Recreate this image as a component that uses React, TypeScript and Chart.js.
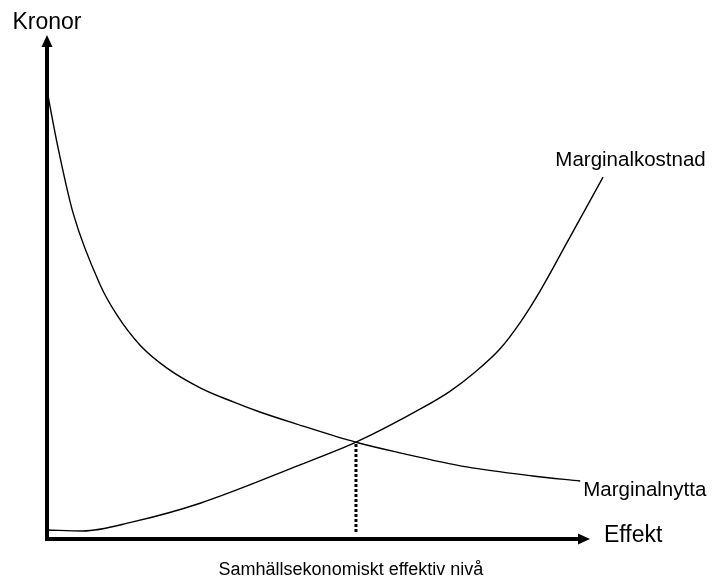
import React, { useEffect, useRef } from "react";
import { Chart, registerables } from "chart.js";

Chart.register(...registerables);

// Effekt (x, 0–100) and Kronor (y, 0–100)
const nyttaX = [0, 2.0, 4.8, 9.8, 12.9, 17.1, 22.1, 28.2, 34.3, 39.2, 46.0, 56.9, 65.0, 77.3, 89.5, 98.2];
const nyttaY = [89, 77.8, 64.7, 50.4, 44.4, 38.5, 33.9, 30.0, 27.2, 25.2, 22.8, 19.2, 17.1, 14.3, 12.5, 11.5];

const kostnadX = [0, 6.6, 15.8, 28.2, 46.6, 56.9, 69.1, 74.2, 78.8, 83.4, 87.1, 90.8, 95.8, 102.4];
const kostnadY = [1.8, 1.6, 3.4, 7.1, 14.7, 19.2, 26.0, 29.3, 33.1, 37.7, 42.9, 49.2, 58.9, 71.8];

const optimumX = 56.9;
const optimumY = 19.2;
const dottedBottom = 1.4;

const yAxisTitle = "Kronor";
const xAxisTitle = "Effekt";
const kostnadLabel = "Marginalkostnad";
const nyttaLabel = "Marginalnytta";
const optimumLabel = "Samhällsekonomiskt effektiv nivå";

const FONT = "'Liberation Sans', Arial, Helvetica, sans-serif";

const toPoints = (xs: number[], ys: number[]) => xs.map((x, i) => ({ x, y: ys[i] }));

const overlay = {
  id: "overlay",
  afterDraw(chart: any) {
    const ctx = chart.ctx as CanvasRenderingContext2D;
    const xs = chart.scales.x;
    const ys = chart.scales.y;
    const x0 = xs.getPixelForValue(0);
    const x1 = xs.getPixelForValue(100);
    const y0 = ys.getPixelForValue(0);
    const y1 = ys.getPixelForValue(100);
    ctx.save();
    ctx.fillStyle = "#000";
    ctx.strokeStyle = "#000";
    ctx.lineWidth = 4;
    ctx.lineCap = "butt";
    // y axis
    ctx.beginPath();
    ctx.moveTo(x0, y0 + 2);
    ctx.lineTo(x0, y1 + 10);
    ctx.stroke();
    ctx.beginPath();
    ctx.moveTo(x0, y1);
    ctx.lineTo(x0 - 5.5, y1 + 12);
    ctx.lineTo(x0 + 5.5, y1 + 12);
    ctx.closePath();
    ctx.fill();
    // x axis
    ctx.beginPath();
    ctx.moveTo(x0 - 2, y0);
    ctx.lineTo(x1 - 10, y0);
    ctx.stroke();
    ctx.beginPath();
    ctx.moveTo(x1, y0);
    ctx.lineTo(x1 - 12, y0 - 5.5);
    ctx.lineTo(x1 - 12, y0 + 5.5);
    ctx.closePath();
    ctx.fill();

    // texts
    ctx.textBaseline = "alphabetic";
    ctx.font = `23px ${FONT}`;
    ctx.textAlign = "center";
    ctx.fillText(yAxisTitle, x0, y1 - 6);
    ctx.textAlign = "left";
    ctx.fillText(xAxisTitle, x1 + 14, y0 + 3);

    ctx.font = `20.5px ${FONT}`;
    const kx = xs.getPixelForValue(kostnadX[kostnadX.length - 1]);
    const ky = ys.getPixelForValue(kostnadY[kostnadY.length - 1]);
    ctx.textAlign = "center";
    ctx.fillText(kostnadLabel, kx + 27.5, ky - 11);

    const nx = xs.getPixelForValue(nyttaX[nyttaX.length - 1]);
    const ny = ys.getPixelForValue(nyttaY[nyttaY.length - 1]);
    ctx.textAlign = "left";
    ctx.fillText(nyttaLabel, nx + 3, ny + 15);

    ctx.font = `18px ${FONT}`;
    ctx.textAlign = "center";
    ctx.fillText(optimumLabel, xs.getPixelForValue(optimumX) - 5, y0 + 36);
    ctx.restore();
  },
};

export default function App() {
  const ref = useRef<HTMLCanvasElement | null>(null);
  useEffect(() => {
    document.body.style.margin = "0";
    const canvas = ref.current!;
    const chart = new Chart(canvas, {
      type: "line",
      data: {
        datasets: [
          {
            label: nyttaLabel,
            data: toPoints(nyttaX, nyttaY),
            borderColor: "#000",
            borderWidth: 1.4,
            pointRadius: 0,
            cubicInterpolationMode: "monotone",
            clip: false as any,
          },
          {
            label: kostnadLabel,
            data: toPoints(kostnadX, kostnadY),
            borderColor: "#000",
            borderWidth: 1.4,
            pointRadius: 0,
            cubicInterpolationMode: "monotone",
            clip: false as any,
          },
          {
            label: optimumLabel,
            data: [
              { x: optimumX, y: dottedBottom },
              { x: optimumX, y: optimumY },
            ],
            borderColor: "#000",
            borderWidth: 3,
            borderDash: [3, 2],
            pointRadius: 0,
            clip: false as any,
          },
        ],
      },
      options: {
        responsive: false,
        animation: false,
        layout: { padding: { left: 47, right: 122, top: 35, bottom: 40 } },
        plugins: { legend: { display: false }, tooltip: { enabled: false } },
        scales: {
          x: { type: "linear", min: 0, max: 100, display: false },
          y: { type: "linear", min: 0, max: 100, display: false },
        },
      },
      plugins: [overlay],
    });
    return () => chart.destroy();
  }, []);
  return <canvas ref={ref} width={712} height={579} style={{ display: "block" }} />;
}
